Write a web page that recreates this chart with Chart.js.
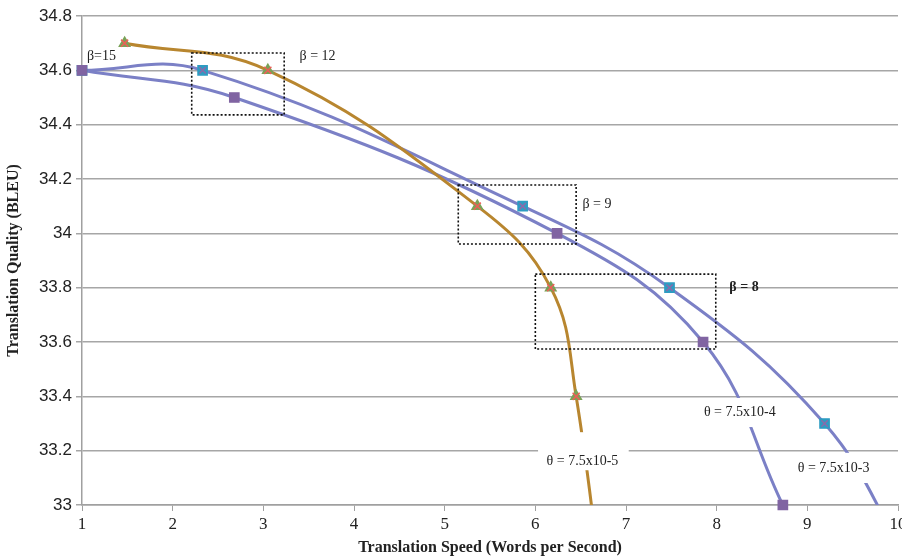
<!DOCTYPE html>
<html>
<head>
<meta charset="utf-8">
<script src="https://cdn.jsdelivr.net/npm/chart.js@4"></script>
<style>
    html, body { margin: 0; padding: 0; background: #fff; overflow: hidden; }
    #wrap { width: 912px; height: 557px; }
</style>
</head>
<body>
<div id="wrap"><canvas id="plot" width="912" height="557"></canvas></div>
<script>
// theta = 7.5x10-5 (brown curve)
const speedLow = [1.47, 3.05, 5.36, 6.17, 6.45, 6.8];
const bleuLow = [34.7, 34.6, 34.1, 33.8, 33.4, 32.5];
// theta = 7.5x10-3 (upper blue curve)
const speedHigh = [1, 2.33, 5.86, 7.48, 9.19, 10.1];
const bleuHigh = [34.6, 34.6, 34.1, 33.8, 33.3, 32.8];
// theta = 7.5x10-4 (lower blue curve)
const speedMid = [1, 2.68, 6.24, 7.85, 8.73];
const bleuMid = [34.6, 34.5, 34.0, 33.6, 33.0];

const xTicks = [1, 2, 3, 4, 5, 6, 7, 8, 9, 10];
const yTicks = [33, 33.2, 33.4, 33.6, 33.8, 34, 34.2, 34.4, 34.6, 34.8];

// dotted boxes around the beta groups: [x1, x2, yTop, yBottom]
const betaBoxes = [
    [2.21, 3.23, 34.664, 34.436],
    [5.15, 6.45, 34.178, 33.961],
    [6.0, 7.99, 33.85, 33.574]
];
// beta labels: [text, x, y, bold]
const betaLabels = [
    ['\u03B2=15', 1.055, 34.653, false],
    ['\u03B2 = 12', 3.40, 34.65, false],
    ['\u03B2 = 9', 6.52, 34.108, false],
    ['\u03B2 = 8', 8.14, 33.80, true]
];
// theta labels with white background: [text, xCenter, yCenter, x1, x2, yTop, yBottom]
const thetaLabels = [
    ['\u03B8 = 7.5x10-5', 6.52, 33.16, 6.03, 7.03, 33.268, 33.128],
    ['\u03B8 = 7.5x10-4', 8.255, 33.342, 7.81, 8.72, 33.394, 33.287],
    ['\u03B8 = 7.5x10-3', 9.29, 33.136, 8.86, 9.74, 33.192, 33.081]
];

const toPoints = (xs, ys) => xs.map((x, i) => ({ x: x, y: ys[i] }));
const inRange = (c, r) => (c.raw && c.raw.y >= 33 && c.raw.x <= 10) ? r : 0;

const lineDs = (xs, ys, color) => ({
    data: toPoints(xs, ys),
    showLine: true,
    borderColor: color,
    borderWidth: 3,
    tension: 0.4,
    pointRadius: 0,
    clip: 0,
    order: 10
});

const markerDs = (xs, ys, style, fill, edge, r, ord) => ({
    data: toPoints(xs, ys),
    showLine: false,
    pointStyle: style,
    backgroundColor: fill,
    borderColor: edge,
    borderWidth: 1.5,
    pointRadius: (c) => inRange(c, r),
    clip: false,
    order: ord
});

const annotations = {
    id: 'annotations',
    afterDatasetsDraw(chart) {
        const ctx = chart.ctx;
        const x = chart.scales.x;
        const y = chart.scales.y;
        ctx.save();
        // dotted rectangles
        ctx.strokeStyle = '#111';
        ctx.lineWidth = 1.6;
        ctx.setLineDash([2, 2]);
        betaBoxes.forEach(b => {
            const x1 = x.getPixelForValue(b[0]);
            const x2 = x.getPixelForValue(b[1]);
            const y1 = y.getPixelForValue(b[2]);
            const y2 = y.getPixelForValue(b[3]);
            ctx.strokeRect(x1, y1, x2 - x1, y2 - y1);
        });
        ctx.setLineDash([]);
        ctx.fillStyle = '#222';
        ctx.textBaseline = 'middle';
        ctx.textAlign = 'left';
        betaLabels.forEach(l => {
            ctx.font = (l[3] ? 'bold ' : '') + '14px "Liberation Serif", serif';
            ctx.fillText(l[0], x.getPixelForValue(l[1]), y.getPixelForValue(l[2]));
        });
        // theta labels on white
        ctx.textAlign = 'center';
        ctx.font = '14px "Liberation Serif", serif';
        thetaLabels.forEach(l => {
            const x1 = x.getPixelForValue(l[3]);
            const x2 = x.getPixelForValue(l[4]);
            const y1 = y.getPixelForValue(l[5]);
            const y2 = y.getPixelForValue(l[6]);
            ctx.fillStyle = '#fff';
            ctx.fillRect(x1, y1, x2 - x1, y2 - y1);
            ctx.fillStyle = '#222';
            ctx.fillText(l[0], x.getPixelForValue(l[1]), y.getPixelForValue(l[2]));
        });
        ctx.restore();
    }
};

const plot = document.getElementById('plot').getContext('2d');
new Chart(plot, {
    type: 'scatter',
    data: {
        datasets: [
            lineDs(speedLow, bleuLow, '#B8862F'),
            lineDs(speedHigh, bleuHigh, '#7B80C6'),
            lineDs(speedMid, bleuMid, '#7B80C6'),
            markerDs(speedLow, bleuLow, 'triangle', '#79A257', '#79A257', 6, 5),
            markerDs(speedLow, bleuLow, 'crossRot', 'rgba(0,0,0,0)', '#EC5F57', 5, 4),
            markerDs(speedHigh, bleuHigh, 'rect', '#2D9CC2', '#2D9CC2', 6.5, 3),
            markerDs(speedHigh, bleuHigh, 'crossRot', 'rgba(0,0,0,0)', '#8A6AAA', 4.5, 2),
            markerDs(speedMid, bleuMid, 'rect', '#8064A2', '#8064A2', 6.5, 1)
        ]
    },
    options: {
        responsive: false,
        animation: false,
        layout: { padding: { top: 16, right: 14, bottom: 0, left: 0 } },
        elements: { line: { capBezierPoints: false } },
        plugins: {
            legend: { display: false },
            tooltip: { enabled: false }
        },
        scales: {
            x: {
                type: 'linear',
                min: 1,
                max: 10,
                afterBuildTicks: (axis) => { axis.ticks = xTicks.map(v => ({ value: v })); },
                afterFit: (axis) => { axis.height = 52; },
                grid: { drawOnChartArea: false, color: '#a0a0a0', tickLength: 6 },
                border: { color: '#a0a0a0', width: 1.5 },
                ticks: {
                    color: '#222',
                    padding: 3,
                    maxRotation: 0,
                    font: { family: '"Liberation Serif", serif', size: 17 }
                },
                title: {
                    display: true,
                    text: 'Translation Speed (Words per Second)',
                    color: '#222',
                    padding: { top: 0, bottom: 0 },
                    font: { family: '"Liberation Serif", serif', size: 16, weight: 'bold' }
                }
            },
            y: {
                min: 33,
                max: 34.8,
                afterBuildTicks: (axis) => { axis.ticks = yTicks.map(v => ({ value: v })); },
                afterFit: (axis) => { axis.width = 82; },
                grid: { color: '#a6a6a6', lineWidth: 1.5, tickLength: 6 },
                border: { color: '#a0a0a0', width: 1.5 },
                ticks: {
                    color: '#222',
                    padding: 4,
                    font: { family: '"Liberation Sans", Arial, sans-serif', size: 17 },
                    callback: (v) => String(parseFloat(v.toFixed(1)))
                },
                title: {
                    display: true,
                    text: 'Translation Quality (BLEU)',
                    color: '#222',
                    padding: { top: 4, bottom: 0 },
                    font: { family: '"Liberation Serif", serif', size: 16, weight: 'bold' }
                }
            }
        }
    },
    plugins: [annotations]
});
</script>
</body>
</html>
